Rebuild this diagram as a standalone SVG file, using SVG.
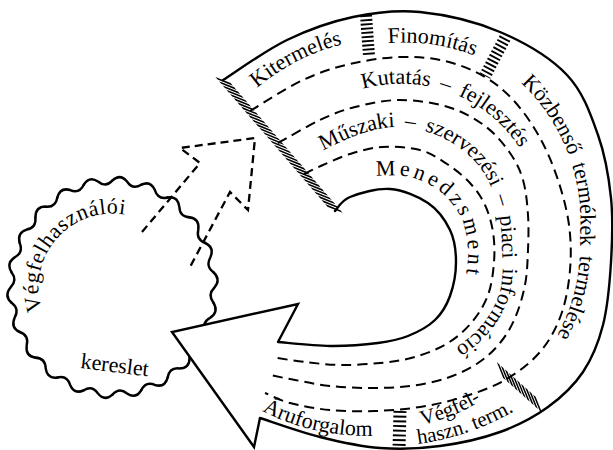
<svg xmlns="http://www.w3.org/2000/svg" width="613" height="450" viewBox="0 0 613 450">
<style>
.s{fill:none;stroke:#000;stroke-width:2.4;stroke-linecap:round;stroke-linejoin:round}
.d{fill:none;stroke:#000;stroke-width:2;stroke-dasharray:10 6}
.da{fill:none;stroke:#000;stroke-width:2.3;stroke-dasharray:8 5;stroke-linejoin:miter}
.h{fill:none;stroke:#000}
text{font-family:"Liberation Serif","Times New Roman",serif;font-size:22px;fill:#000}
.sm{font-size:21px}
</style>
<defs>
<path id="wave" d="M100.96,-14.52 Q108.72,-7.78 102,0 Q94.76,6.78 100.96,14.52"/>
<path id="pBlob" d="M42.1,310.4 A74,74 0 0 1 127.9,215.1"/>
<path id="pKit" d="M257,88 A210,210 0 0 1 365,40"/>
<path id="pFin" d="M388,43 A200,200 0 0 1 485,60"/>
<path id="pKoz" d="M521,83 A190,190 0 0 1 580,235 A190,190 0 0 1 551,346"/>
<path id="pKut" d="M363,89 A140.7,140.7 0 0 1 525,157"/>
<path id="pMus" d="M318,153 C325,149.8 346.3,138.3 360,134 S386.2,126.3 400,127 S430,131.7 443,138 S469,154.2 478,165 S493,189.2 497,203 S501.5,233.3 502,248 S503.7,277.8 500,291 S488.7,316.8 480,327 S459.5,345.5 448,352 S417.2,363.7 411,366"/>
<path id="pMen" d="M372,176 C378.3,176.2 398.3,174.2 410,177 S433.3,185.8 442,193 S457.7,210.5 462,220 S467.3,240.8 468,250 S466.3,270.8 466,275"/>
<path id="pAru" d="M262,411 A230,230 0 0 0 385,435"/>
<path id="pVeg1" d="M422,425 A200,200 0 0 0 490,395"/>
<path id="pVeg2" d="M418,444 A260,260 0 0 0 530,401"/>
</defs>

<g id="consumer-demand">
 <g class="s" transform="translate(112.5,287.5) scale(1,1.05)">
  <use href="#wave"/>
  <use href="#wave" transform="rotate(16.364)"/>
  <use href="#wave" transform="rotate(32.727)"/>
  <use href="#wave" transform="rotate(49.091)"/>
  <use href="#wave" transform="rotate(65.455)"/>
  <use href="#wave" transform="rotate(81.818)"/>
  <use href="#wave" transform="rotate(98.182)"/>
  <use href="#wave" transform="rotate(114.545)"/>
  <use href="#wave" transform="rotate(130.909)"/>
  <use href="#wave" transform="rotate(147.273)"/>
  <use href="#wave" transform="rotate(163.636)"/>
  <use href="#wave" transform="rotate(180)"/>
  <use href="#wave" transform="rotate(196.364)"/>
  <use href="#wave" transform="rotate(212.727)"/>
  <use href="#wave" transform="rotate(229.091)"/>
  <use href="#wave" transform="rotate(245.455)"/>
  <use href="#wave" transform="rotate(261.818)"/>
  <use href="#wave" transform="rotate(278.182)"/>
  <use href="#wave" transform="rotate(294.545)"/>
  <use href="#wave" transform="rotate(310.909)"/>
  <use href="#wave" transform="rotate(327.273)"/>
  <use href="#wave" transform="rotate(343.636)"/>
 </g>
 <text letter-spacing="0.6"><textPath href="#pBlob">Végfelhasználói</textPath></text>
 <text x="80" y="368" transform="rotate(7 80 368)">kereslet</text>
</g>

<g id="connectors">
 <path class="da" d="M142,232 L200,163 L180,148 L255,138 L248,210 L230,192 L190,267"/>
</g>

<g id="arrowhead">
 <path d="M278,342 L298,304 L172,332 L254,447 L260,418" fill="#fff" stroke="#000" stroke-width="2.4" stroke-linejoin="miter"/>
</g>

<g id="cycle">
 <path class="s" d="M223,80 C233.7,73.3 265.3,50.5 287,40 S330.8,21.7 353,17 S395.5,9.5 420,12 S475.5,21.5 500,32 S550.7,57.8 567,75 S590.7,114.5 598,135 S608.8,176.8 611,198 S612.3,240.8 611,262 S607.7,306.7 603,325 S592.2,358.3 583,372 S561.8,397 548,407 S518,425.5 500,432 S460,443.3 440,446 S400,449.5 380,448 S340,442 320,437 S270,421.2 260,418"/>
 <path class="s" d="M335,211 C337.5,208.7 340.8,200.7 350,197 S377,188 390,189 S418,196.2 428,203 S445.3,220.2 450,230 S456,251 456,262 S453.5,286.3 450,296 S442,313.3 435,320 S417.5,332.2 408,336 S391,341.3 378,343 S346.7,346.2 330,346 S286.7,342.7 278,342"/>
 <path class="d" d="M250,111 C258.8,105.8 286.3,87.8 303,80 S333.8,67.8 350,64 S384.2,57.5 400,57 S430.8,57.7 445,61 S473.3,70.2 485,77 S505.8,91.8 515,102 S532.8,125 540,138 S553.2,165.5 558,180 S567,210 569,225 S571.3,255 570,270 S566,301.3 561,315 S549.3,341.2 540,352 S517.8,372.5 505,380 S477.2,392.5 463,397 S434.7,404.7 420,407 S390,410.5 375,411 S344.2,411.3 330,410 S300.8,405.8 290,403 S269.2,394.7 265,393"/>
 <path class="d" d="M278,143 C285,139.2 307.2,126 320,120 S341.7,110.3 355,107 S384.5,100 400,100 S433.8,102.7 448,107 S474.7,118.3 485,126 S503.7,144 510,153 S520,169.7 523,180 S527.2,203.3 528,215 S528.5,238.3 528,250 S527.2,273.7 525,285 S519.2,308.3 515,318 S506.2,335.5 500,343 S486.8,357.2 478,363 S458.3,374.2 447,378 S422.8,384.3 410,386 S383.3,388 370,388 S342.5,387.3 330,386 S305,381.8 295,380 S274.2,375.8 270,375"/>
 <path class="d" d="M304,174 C307.2,172.5 315.3,168.3 323,165 S340.2,157 350,154 S370.3,147.7 382,147 S409.2,147.2 420,150 S438.7,158.5 447,164 S463.7,176.2 470,183 S481.2,196.8 485,205 S491.5,222.5 493,232 S494.8,251.5 494,262 S491.7,285 488,295 S478.7,314 472,322 S457.5,337.2 448,343 S426.3,353.7 415,357 S392.5,361.7 380,363 S352.5,365.2 340,365 S315.5,363.2 305,362 S281.7,358.7 277,358"/>

 <g class="h">
  <line x2="173" transform="translate(223,80) rotate(49.2) skewX(-62.8)" stroke-width="7.5" stroke-dasharray="3.4 2.2"/>
  <line x2="52" transform="translate(500,370) rotate(41.8) skewX(63.8)" stroke-width="7.5" stroke-dasharray="3.4 2"/>
  <line x1="366" y1="15" x2="369" y2="56" stroke-width="12" stroke-dasharray="1.9 2.3"/>
  <line x1="505" y1="38" x2="485" y2="76" stroke-width="12" stroke-dasharray="1.9 2.3"/>
  <line x1="400" y1="411" x2="399" y2="449" stroke-width="13" stroke-dasharray="1.9 2.8"/>
 </g>

 <text><textPath href="#pKit">Kitermelés</textPath></text>
 <text><textPath href="#pFin">Finomítás</textPath></text>
 <text word-spacing="4"><textPath href="#pKoz">Közbenső termékek termelése</textPath></text>
 <text word-spacing="4"><textPath href="#pKut">Kutatás – fejlesztés</textPath></text>
 <text word-spacing="4"><textPath href="#pMus" startOffset="6">Műszaki – szervezési – piaci információ</textPath></text>
 <text letter-spacing="3.5"><textPath href="#pMen" startOffset="4">Menedzsment</textPath></text>
 <text><textPath href="#pAru">Áruforgalom</textPath></text>
 <text class="sm"><textPath href="#pVeg1">Végfel-</textPath></text>
 <text class="sm"><textPath href="#pVeg2">haszn. term.</textPath></text>
</g>
</svg>
